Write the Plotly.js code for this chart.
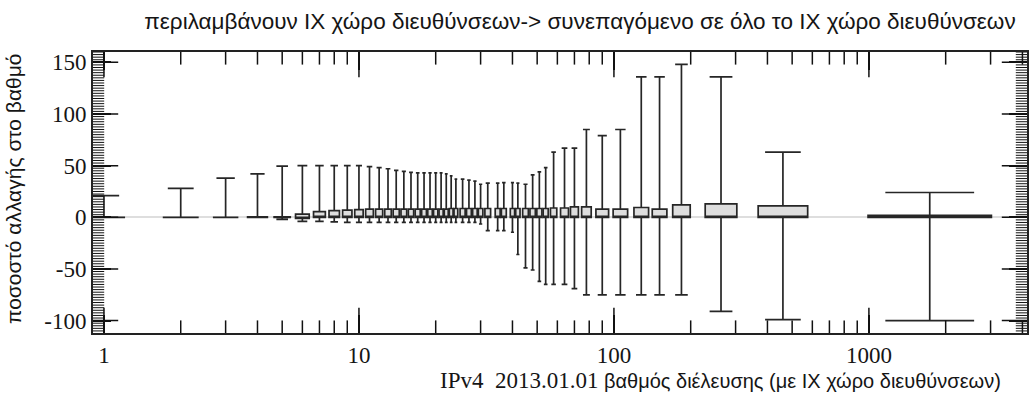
<!DOCTYPE html>
<html>
<head>
<meta charset="utf-8">
<script src="https://cdn.plot.ly/plotly-3.0.1.min.js"></script>
<style>html,body{margin:0;padding:0;background:#fff;}</style>
</head>
<body>
<div id="chart" style="width:1030px;height:397px;"></div>
<script>
// transit degree (box centres)
const degree = [1,2,3,4,5,6,7,8,9,10,11,12,13,14,15,16,17,18,19,20,21,22,23,24,25.5,27,28.5,30,32,35,37,40,42,45,48,51,54,58,64,70,78,90,106,128,151,184,263,460,1732];
// percentage change in degree
const upperWhisker = [21,28,38,42,49.5,50,50,50,50,50,49,48,47,45.5,44.5,43.5,43,43,43,43,43,42,40,37,37,36,35,32,33,33,33.5,33.5,33,32,41,44,48,63,67,67,85,79,85,136,136,148,136,63,24];
const upperQuartile = [0,0,0,0.5,0.5,3,5.5,6.5,7,7.5,8,8,8,8,8,8,8,8,8,8,8,8,8.5,8.5,8.5,8.5,8.5,8.5,8.5,8.5,8.5,8.5,8.5,8.5,8.5,8.5,8.5,9,9,10,10,8,8,9.5,8,12,13,11,2];
const medianChange = [0,0,0,0,0,0,0,0,0,0,0,0,0,0,0,0,0,0,0,0,0,0,0,0,0,0,0,0,0,0,0,0,0,0,0,0,0,0,0,0,0,0,0,0,0,0,0,0,0];
const lowerQuartile = [0,0,0,0,0,-1,0,0,0,0,0,0,0,0,0,0,0,0,0,0,0,0,0,0,0,0,0,0,0,0,0,0,0,0,0,0,0,0,0,0,0,0,0,0,0,0,0,0,0];
const lowerWhisker = [0,0,0,0,-2,-4,-4,-4.5,-5,-5,-5,-5,-5,-5,-5,-5,-5,-5,-5,-5,-5,-5,-5,-5,-5,-5,-5,-6.5,-13,-13,-13,-14.5,-36,-49,-51,-62,-65,-65,-65,-69,-75,-75,-75,-75,-75,-75,-91,-99,-100];

const xTickValues = [1,10,100,1000];
const xTickLabels = ['1','10','100','1000'];
const yTickValues = [-100,-50,0,50,100,150];
const yTickLabels = ['-100','-50','0','50','100','150'];

const chartTitle = 'περιλαμβάνουν IX χώρο διευθύνσεων-> συνεπαγόμενο σε όλο το IX χώρο διευθύνσεων';
const xTitleDate = 'IPv4\u00a0 2013.01.01';
const xTitleText = 'βαθμός διέλευσης (με IX χώρο διευθύνσεων)';
const yTitleText = 'ποσοστό αλλαγής στο βαθμό';

const X_RANGE = [-0.043, 3.62];
const Y_RANGE = [-112, 160];
const X_EDGES = [Math.pow(10, X_RANGE[0]), Math.pow(10, X_RANGE[1])];

// minor tick positions derived from the axis ranges
const xMinor = [];
for (let e = 0; e <= 3; e++) for (let m = 2; m <= 9; m++) { const v = m * Math.pow(10, e); if (Math.log10(v) <= X_RANGE[1]) xMinor.push(v); }
const yMinor = [];
for (let v = -110; v <= 160; v += 2.5) if (v % 50 !== 0) yMinor.push(v);

const logDeg = degree.map(d => Math.log10(d));
const n = degree.length;
const traces = degree.map((d, i) => {
  let w;
  if (i === 0) w = 0.55 * (logDeg[1] - logDeg[0]);
  else if (i === n - 1) w = 0.84 * (logDeg[n-1] - logDeg[n-2]);
  else w = 0.8 * Math.min(logDeg[i] - logDeg[i-1], logDeg[i+1] - logDeg[i]);
  return {
    type: 'box', x: [d],
    q1: [lowerQuartile[i]], median: [medianChange[i]], q3: [upperQuartile[i]],
    lowerfence: [lowerWhisker[i]], upperfence: [upperWhisker[i]],
    width: w, whiskerwidth: 0.72, boxpoints: false,
    line: {color: '#262626', width: 1.7}, fillcolor: '#dedede',
    hoverinfo: 'skip', showlegend: false
  };
});

// tick marks along the frame (half of each centred marker is clipped at the frame edge)
function tickTrace(xs, ys, symbol, size, width) {
  return {type: 'scatter', mode: 'markers', x: xs, y: ys, cliponaxis: true,
    marker: {symbol: symbol, size: size, color: '#111', line: {color: '#111', width: width}},
    hoverinfo: 'skip', showlegend: false};
}
const xm = [], ym = [];
xMinor.forEach(v => { xm.push(v, v); ym.push(Y_RANGE[0], Y_RANGE[1]); });
traces.push(tickTrace(xm, ym, 'line-ns', 18, 1.5));
const xM = [], yM = [];
xTickValues.forEach(v => { xM.push(v, v); yM.push(Y_RANGE[0], Y_RANGE[1]); });
traces.push(tickTrace(xM, yM, 'line-ns', 36, 1.5));
const xy = [], yy = [];
yMinor.forEach(v => { xy.push(X_EDGES[0], X_EDGES[1]); yy.push(v, v); });
traces.push(tickTrace(xy, yy, 'line-ew', 16, 1));
const xY = [], yY = [];
yTickValues.forEach(v => { xY.push(X_EDGES[0], X_EDGES[1]); yY.push(v, v); });
traces.push(tickTrace(xY, yY, 'line-ew', 36, 1.5));

const layout = {
  width: 1030, height: 397,
  margin: {l: 93, r: 3, t: 52, b: 64},
  showlegend: false,
  boxmode: 'overlay', boxgap: 0, boxgroupgap: 0,
  title: {
    text: chartTitle,
    font: {family: 'Liberation Sans', size: 22.5, color: '#151515'},
    x: 580/1030, xanchor: 'center', xref: 'container',
    y: 1 - 21/397, yanchor: 'middle', yref: 'container'
  },
  xaxis: {
    type: 'log', range: X_RANGE,
    tickmode: 'array', tickvals: xTickValues, ticktext: xTickLabels,
    ticks: 'inside', ticklen: 18, tickwidth: 1.5, tickcolor: '#111',
    showline: true, linewidth: 2, linecolor: '#222', mirror: 'allticks',
    showgrid: false, zeroline: false,
    tickfont: {family: 'Liberation Serif', size: 23, color: '#151515'}
  },
  yaxis: {
    range: Y_RANGE,
    tickmode: 'array', tickvals: yTickValues, ticktext: yTickLabels,
    ticks: 'inside', ticklen: 18, tickwidth: 1.5, tickcolor: '#111',
    showline: true, linewidth: 2, linecolor: '#222', mirror: 'allticks',
    showgrid: false, zeroline: true, zerolinecolor: '#dedede', zerolinewidth: 2,
    tickfont: {family: 'Liberation Serif', size: 23, color: '#151515'}
  },
  annotations: [
    {
      xref: 'paper', yref: 'paper', x: (720-93)/934, y: -(47/281),
      xanchor: 'center', yanchor: 'middle', showarrow: false,
      text: '<span style="font-family:Liberation Serif;font-size:23px">' + xTitleDate + '</span> ' + xTitleText,
      font: {family: 'Liberation Sans', size: 20, color: '#151515'}
    },
    {
      xref: 'paper', yref: 'paper', x: (13-93)/934, y: (333-189)/281,
      xanchor: 'center', yanchor: 'middle', showarrow: false, textangle: -90,
      text: yTitleText,
      font: {family: 'Liberation Sans', size: 21, color: '#151515'}
    }
  ]
};

Plotly.newPlot('chart', traces, layout, {displayModeBar: false});
</script>
</body>
</html>
